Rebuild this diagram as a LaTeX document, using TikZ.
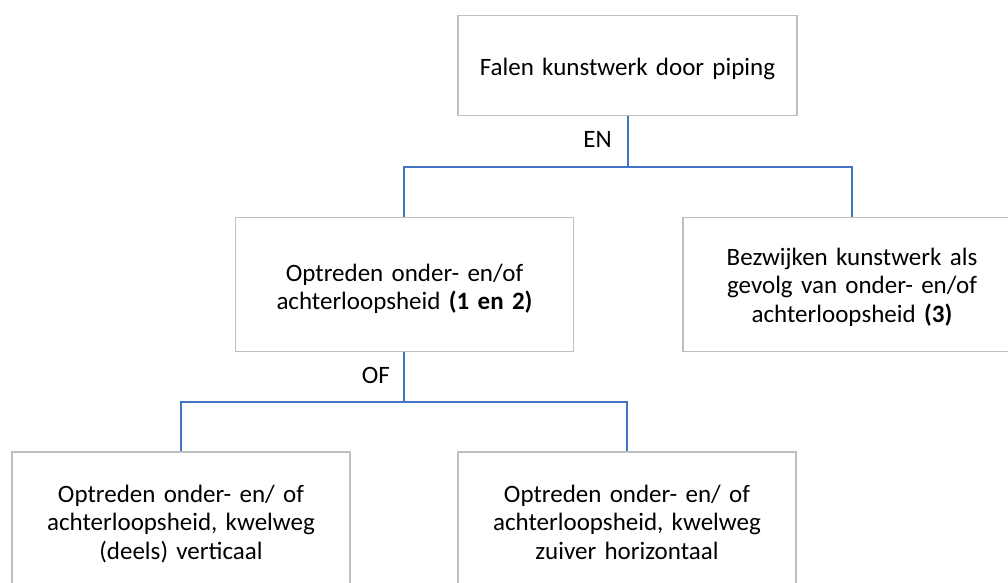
\documentclass[tikz,border=0pt]{standalone}
\usepackage{fontspec}
\setmainfont{Carlito}
\begin{document}
\begin{tikzpicture}[x=1pt,y=-1pt,
  box/.style={draw=black!25,line width=1.8pt,fill=white,inner sep=0pt,
    minimum width=338pt,minimum height=134pt,align=center,text width=320pt,
    font=\fontsize{25pt}{28.5pt}\selectfont},
  conn/.style={draw={rgb,255:red,68;green,114;blue,196},line width=1.3pt},
  lbl/.style={inner sep=0pt,font=\fontsize{25pt}{28.5pt}\selectfont}]
\useasboundingbox (0,0) rectangle (1008,582);
\clip (0,0) rectangle (1008,582);
\node[box,minimum width=339pt,minimum height=100pt,text height=19pt,text depth=0pt] (top) at (627.5,65.5) {Falen kunstwerk door piping};
\node[box,text height=0pt,text depth=7pt] (ml) at (404.5,284.5) {Optreden onder- en/of\\achterloopsheid \textbf{(1 en 2)}};
\node[box,text height=0pt,text depth=39pt] (rb) at (852,284.5) {Bezwijken kunstwerk als\\gevolg van onder- en/of\\achterloopsheid \textbf{(3)}};
\node[box,text height=0pt,text depth=34pt] (bl) at (181,519) {Optreden onder- en/ of\\achterloopsheid, kwelweg\\(deels) verticaal};
\node[box,text height=0pt,text depth=34pt] (br) at (627,519) {Optreden onder- en/ of\\achterloopsheid, kwelweg\\zuiver horizontaal};
\coordinate (j1) at (628,167);
\coordinate (j2) at (404,402);
\draw[conn] (j1 |- top.south) -- (j1) -| (ml.north -| j2);
\draw[conn] (j1) -| (rb.north);
\draw[conn] (j2 |- ml.south) -- (j2) -| (bl.north);
\draw[conn] (j2) -| (br.north);
\node[lbl,anchor=base east] (en) at (612,147) {EN};
\node[lbl,anchor=base east] (of) at (390,383) {OF};
\end{tikzpicture}
\end{document}
